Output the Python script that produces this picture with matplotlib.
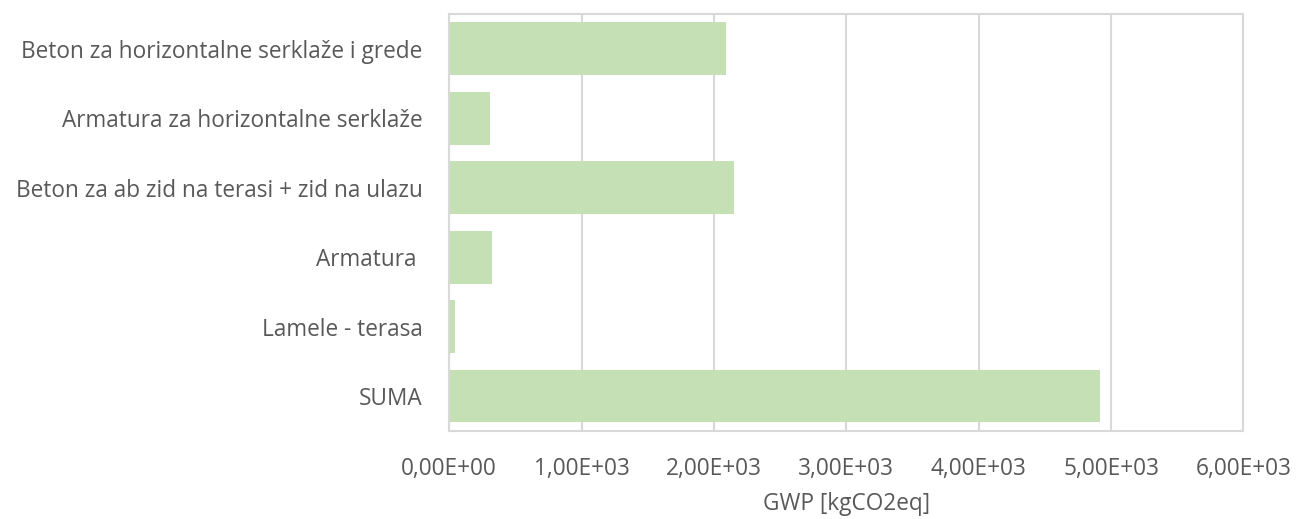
import matplotlib.pyplot as plt
from matplotlib.ticker import FuncFormatter

# 类别
categories = ['Beton za horizontalne serklaže i grede',
              'Armatura za horizontalne serklaže',
              'Beton za ab zid na terasi + zid na ulazu',
              'Armatura ',
              'Lamele - terasa',
              'SUMA']
# GWP值
gwp = [2090, 310, 2150, 325, 45, 4920]
# 横坐标刻度
xticks = [0, 1000, 2000, 3000, 4000, 5000, 6000]


def sci_comma(x, pos):
    # 科学计数法，逗号作小数点
    s = '{:.2E}'.format(x)
    return s.replace('.', ',')


def visualize():
    plt.rcParams['font.family'] = ['Open Sans', 'DejaVu Sans']
    plt.figure(figsize=(12.98, 5.19), dpi=100)
    plt.axes([0.346, 0.170, 0.612, 0.803])

    #条形位置
    ypos = list(range(len(categories)))[::-1]
    plt.barh(ypos, gwp, height=0.76, color='#C5E0B4', zorder=2)

    #纵坐标
    plt.yticks(ypos, categories, fontsize=16.3, color='#595959')
    plt.ylim(-0.5, len(categories) - 0.5)
    #横坐标
    plt.xticks(xticks, fontsize=16.3, color='#595959')
    plt.xlim(0, 6000)
    plt.gca().xaxis.set_major_formatter(FuncFormatter(sci_comma))
    plt.xlabel('GWP [kgCO2eq]', fontsize=16.3, color='#595959', labelpad=8)

    #网格和边框
    plt.grid(axis='x', color='#D9D9D9', linewidth=1.5, zorder=0)
    for sp in plt.gca().spines.values():
        sp.set_color('#D9D9D9')
        sp.set_linewidth(1.5)
    plt.tick_params(axis='y', length=0, pad=19)
    plt.tick_params(axis='x', length=0, pad=19)

    plt.savefig('out.png')
    return


if __name__ == '__main__':
    visualize()
